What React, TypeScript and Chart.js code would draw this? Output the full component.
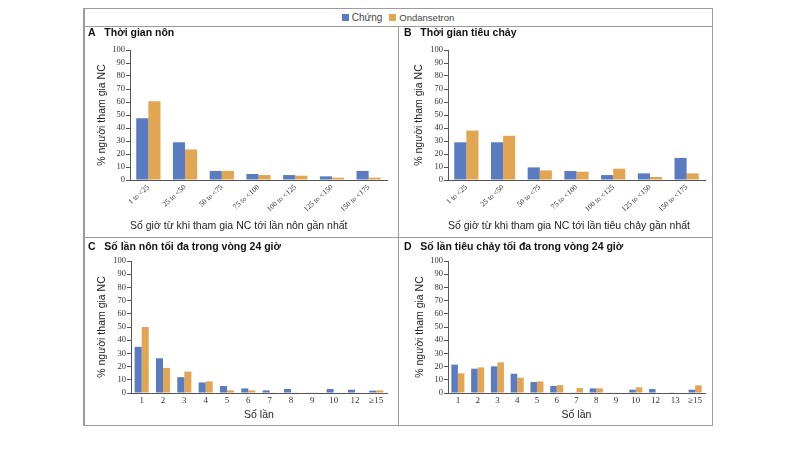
import React, { useEffect, useRef } from 'react';
import { Chart, registerables } from 'chart.js';

Chart.register(...registerables);

const seriesNames = ['Chứng', 'Ondansetron'];
const seriesColors = ['#5a7bbf', '#e2a652'];

const hourCategories = ['1 to <25', '25 to <50', '50 to <75', '75 to <100', '100 to <125', '125 to <150', '150 to <175'];
const vomitHoursControl = [47.5, 29, 7, 4.6, 3.8, 2.8, 7];
const vomitHoursOnd = [60.5, 23.5, 7, 3.8, 3.3, 1.8, 1.8];
const diarrHoursControl = [29, 29, 9.7, 6.9, 3.8, 5.1, 17];
const diarrHoursOnd = [38, 34, 7.4, 6.4, 8.7, 2.3, 5.1];

const vomitCountCategories = ['1', '2', '3', '4', '5', '6', '7', '8', '9', '10', '12', '≥15'];
const vomitCountControl = [35, 26.3, 12, 8, 5.3, 3.5, 2, 3, 0.3, 3, 2.5, 1.8];
const vomitCountOnd = [50, 19, 16.2, 8.8, 2, 2, 0.5, 0.5, 0.5, 0, 0, 2];

const diarrCountCategories = ['1', '2', '3', '4', '5', '6', '7', '8', '9', '10', '12', '13', '≥15'];
const diarrCountControl = [21.5, 18.4, 20.2, 14.6, 8.3, 5.3, 0.5, 3.5, 0.3, 2.5, 3, 0.5, 2.5];
const diarrCountOnd = [14.9, 19.4, 23.2, 11.6, 8.8, 6, 3.8, 3.5, 0.3, 4.3, 0, 0, 5.8];

const yAxisTitle = '% người tham gia NC';
const yMin = 0;
const yMax = 100;
const yStep = 10;

type Area = { left: number; right: number; top: number; bottom: number };
type PanelProps = {
  letter: string;
  title: string;
  categories: string[];
  control: number[];
  ond: number[];
  xTitle: string;
  rotate: boolean;
  x: number;
  y: number;
  width: number;
  height: number;
  area: Area;
  titleTop: number;
  yTitleCenter: number;
  xTitleFromBottom: number;
};

function Panel(p: PanelProps) {
  const ref = useRef<HTMLCanvasElement>(null);
  useEffect(() => {
    const tlh = 10.5 * 1.2;
    const alh = 10.5 * 1.2;
    const chart = new Chart(ref.current as HTMLCanvasElement, {
      type: 'bar',
      data: {
        labels: p.categories,
        datasets: [
          { label: seriesNames[0], data: p.control, backgroundColor: seriesColors[0], categoryPercentage: 0.66, barPercentage: 1 },
          { label: seriesNames[1], data: p.ond, backgroundColor: seriesColors[1], categoryPercentage: 0.66, barPercentage: 1 },
        ],
      },
      options: {
        responsive: false,
        animation: false,
        layout: { padding: { left: 4, top: 0, right: p.width - p.area.right, bottom: 0 } },
        plugins: {
          legend: { display: false },
          tooltip: { enabled: false },
          title: {
            display: true,
            text: `${p.letter}   ${p.title}`,
            align: 'start',
            color: '#111',
            font: { family: 'Liberation Sans', size: 10.5, weight: 'bold' },
            padding: { top: p.titleTop, bottom: p.area.top - tlh - p.titleTop },
          },
        },
        scales: {
          x: {
            grid: { display: false, drawTicks: false },
            border: { display: true, color: '#555' },
            ticks: {
              autoSkip: false,
              maxRotation: p.rotate ? 42 : 0,
              minRotation: p.rotate ? 42 : 0,
              padding: p.rotate ? 3 : 2,
              color: '#333',
              font: { family: 'Liberation Serif', size: p.rotate ? 7.5 : 9 },
            },
            title: {
              display: true,
              text: p.xTitle,
              align: p.rotate ? 'start' : 'center',
              color: '#222',
              font: { family: 'Liberation Sans', size: 10.5 },
              padding: { top: 0, bottom: p.xTitleFromBottom - alh / 2 },
            },
            afterFit: (s: any) => {
              s.height = p.height - p.area.bottom;
            },
          },
          y: {
            min: yMin,
            max: yMax,
            ticks: { stepSize: yStep, autoSkip: false, padding: 1, color: '#333', font: { family: 'Liberation Serif', size: 8.5 } },
            grid: { drawOnChartArea: false, drawTicks: true, tickLength: 4, color: '#555' },
            border: { display: true, color: '#555' },
            title: {
              display: true,
              text: yAxisTitle,
              color: '#222',
              font: { family: 'Liberation Sans', size: 10.5 },
              padding: { top: p.yTitleCenter - 4 - alh / 2, bottom: 0 },
            },
            afterFit: (s: any) => {
              s.width = p.area.left - 4;
            },
          },
        },
      },
    } as any);
    return () => chart.destroy();
  }, []);
  return (
    <canvas
      ref={ref}
      width={p.width}
      height={p.height}
      style={{ position: 'absolute', left: p.x, top: p.y, width: p.width, height: p.height }}
    />
  );
}

const line = (left: number, top: number, width: number, height: number): React.CSSProperties => ({
  position: 'absolute',
  left,
  top,
  width,
  height,
  background: '#9c9c9c',
});

export default function App() {
  return (
    <div style={{ position: 'fixed', left: 0, top: 0, width: 800, height: 450, background: '#fff', overflow: 'hidden' }}>
      <div style={{ position: 'absolute', left: 83, top: 8, width: 630, height: 418, border: '1px solid #9c9c9c', borderLeft: '2px solid #9c9c9c', boxSizing: 'border-box' }} />
      <div style={line(83, 26, 630, 1)} />
      <div style={line(398, 26, 1, 400)} />
      <div style={line(83, 237, 630, 1)} />
      <div
        style={{
          position: 'absolute', left: 83, top: 8, width: 630, height: 18, display: 'flex', alignItems: 'center',
          justifyContent: 'center', fontFamily: 'Liberation Sans', fontSize: 9.5, color: '#444',
        }}
      >
        <span style={{ display: 'inline-block', width: 7, height: 7, background: seriesColors[0], marginRight: 3 }} />
        <span style={{ marginRight: 7, fontSize: 10 }}>{seriesNames[0]}</span>
        <span style={{ display: 'inline-block', width: 7, height: 7, background: seriesColors[1], marginRight: 3 }} />
        <span>{seriesNames[1]}</span>
      </div>
      <Panel
        letter="A" title="Thời gian nôn" categories={hourCategories} control={vomitHoursControl} ond={vomitHoursOnd}
        xTitle="Số giờ từ khi tham gia NC tới lần nôn gần nhất" rotate={true}
        x={84} y={27} width={314} height={209} area={{ left: 46, right: 303, top: 23, bottom: 153 }}
        titleTop={0} yTitleCenter={18} xTitleFromBottom={10}
      />
      <Panel
        letter="B" title="Thời gian tiêu chảy" categories={hourCategories} control={diarrHoursControl} ond={diarrHoursOnd}
        xTitle="Số giờ từ khi tham gia NC tới lần tiêu chảy gần nhất" rotate={true}
        x={400} y={27} width={312} height={209} area={{ left: 48, right: 305, top: 23, bottom: 153 }}
        titleTop={0} yTitleCenter={19} xTitleFromBottom={10}
      />
      <Panel
        letter="C" title="Số lần nôn tối đa trong vòng 24 giờ" categories={vomitCountCategories} control={vomitCountControl} ond={vomitCountOnd}
        xTitle="Số lần" rotate={false}
        x={84} y={238} width={314} height={187} area={{ left: 47, right: 303, top: 23, bottom: 155 }}
        titleTop={2.5} yTitleCenter={18} xTitleFromBottom={10}
      />
      <Panel
        letter="D" title="Số lần tiêu chảy tối đa trong vòng 24 giờ" categories={diarrCountCategories} control={diarrCountControl} ond={diarrCountOnd}
        xTitle="Số lần" rotate={false}
        x={400} y={238} width={312} height={187} area={{ left: 48, right: 305, top: 23, bottom: 155 }}
        titleTop={2.5} yTitleCenter={20} xTitleFromBottom={10}
      />
    </div>
  );
}
